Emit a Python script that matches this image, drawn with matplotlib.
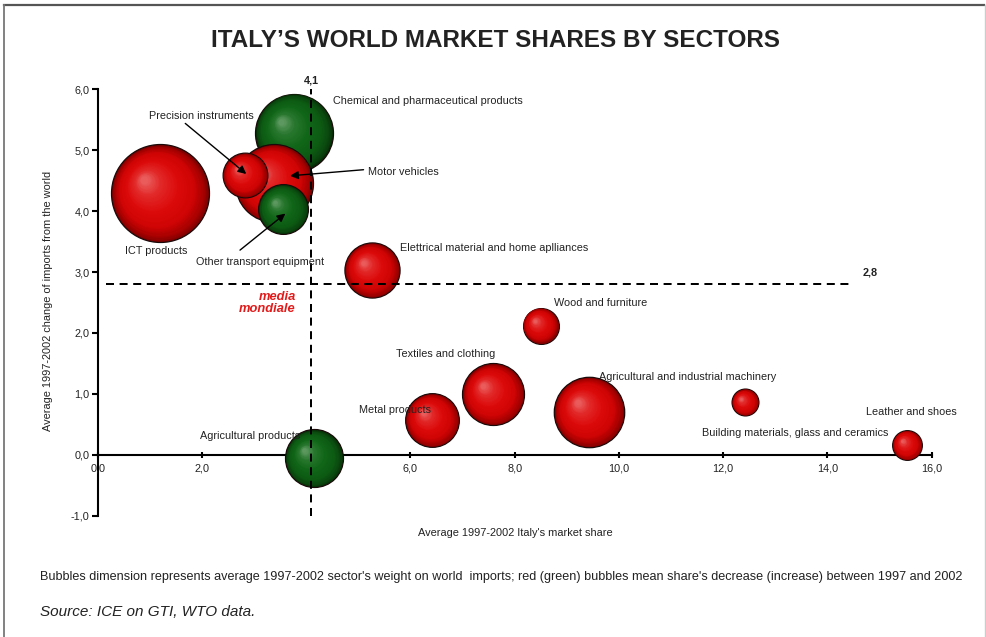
import numpy as np
import matplotlib
matplotlib.use("Agg")
import matplotlib.pyplot as plt
from matplotlib.colors import LinearSegmentedColormap
from matplotlib.transforms import offset_copy
from matplotlib.lines import Line2D

plt.rcParams['font.family'] = ['Liberation Sans', 'DejaVu Sans']

# ---- data -------------------------------------------------------------
sectors = [
    "Chemical and pharmaceutical products",
    "Motor vehicles",
    "Precision instruments",
    "Other transport equipment",
    "ICT products",
    "Elettrical material and home aplliances",
    "Agricultural products",
    "Metal products",
    "Textiles and clothing",
    "Wood and furniture",
    "Agricultural and industrial machinery",
    "Building materials, glass and ceramics",
    "Leather and shoes",
]
market_share = [3.77, 3.38, 2.83, 3.56, 1.20, 5.27, 4.15, 6.42, 7.59, 8.50, 9.43, 12.42, 15.53]
import_change = [5.29, 4.46, 4.59, 4.03, 4.29, 3.03, -0.06, 0.57, 0.99, 2.12, 0.70, 0.86, 0.16]
world_weight = [7.6, 7.6, 2.5, 3.1, 12.0, 3.8, 4.2, 3.6, 4.8, 1.6, 6.2, 0.9, 1.1]
share_trend = ["increase", "decrease", "decrease", "increase", "decrease", "decrease",
               "increase", "decrease", "decrease", "decrease", "decrease", "decrease", "decrease"]

world_avg_share = 4.1
world_avg_change = 2.8

x_ticks = [0, 2, 4, 6, 8, 10, 12, 14, 16]
y_ticks = [-1, 0, 1, 2, 3, 4, 5, 6]

# ---- layout -----------------------------------------------------------
# label anchor (x, y, horizontal alignment) for each sector
label_place = {
    "Chemical and pharmaceutical products": (4.52, 5.81, "left"),
    "Motor vehicles": (5.19, 4.64, "left"),
    "Precision instruments": (1.98, 5.57, "center"),
    "Other transport equipment": (3.12, 3.16, "center"),
    "ICT products": (1.13, 3.34, "center"),
    "Elettrical material and home aplliances": (5.80, 3.39, "left"),
    "Agricultural products": (1.96, 0.31, "left"),
    "Metal products": (5.02, 0.74, "left"),
    "Textiles and clothing": (5.72, 1.66, "left"),
    "Wood and furniture": (8.75, 2.50, "left"),
    "Agricultural and industrial machinery": (9.62, 1.27, "left"),
    "Building materials, glass and ceramics": (11.59, 0.35, "left"),
    "Leather and shoes": (14.74, 0.71, "left"),
}
# arrows (tail, head) pointing at crowded bubbles
arrow_place = {
    "Precision instruments": ((1.68, 5.44), (2.85, 4.61)),
    "Motor vehicles": ((5.10, 4.68), (3.69, 4.58)),
    "Other transport equipment": ((2.73, 3.36), (3.60, 3.96)),
}

SIZE_SCALE = 414.7  # marker area (pt^2) per weight unit

shade = {
    "decrease": LinearSegmentedColormap.from_list(
        "red_sphere",
        [(0.0, "#7a0000"), (0.08, "#a40000"), (0.25, "#cf0404"),
         (0.5, "#dc0a0a"), (0.8, "#e22a2a"), (1.0, "#ea5c5c")]),
    "increase": LinearSegmentedColormap.from_list(
        "green_sphere",
        [(0.0, "#062c06"), (0.08, "#0a460e"), (0.25, "#0d5c14"),
         (0.5, "#106618"), (0.8, "#2a7830"), (1.0, "#5c985f")]),
}

TEXT = "#222222"

fig = plt.figure(figsize=(9.86, 6.37), dpi=100)
ax = fig.add_axes([0.0991, 0.1904, 0.8458, 0.6694])
ax.set_xlim(0, 16)
ax.set_ylim(-1, 6)


def sphere(ax, x, y, area, cmap, n=40):
    r_pt = np.sqrt(area) / 2.0
    hx, hy = -0.33, 0.28
    for k in range(n):
        t = k / (n - 1)
        f = 1.0 - 0.92 * t
        tr = offset_copy(ax.transData, fig=ax.figure,
                         x=hx * t * r_pt, y=hy * t * r_pt, units="points")
        kw = dict(edgecolors="#1a0a0a", linewidths=0.9) if k == 0 else dict(linewidths=0)
        ax.scatter([x], [y], s=area * f * f, color=cmap(t), transform=tr,
                   zorder=2, clip_on=False, **kw)


for name, xv, yv, w, tr in zip(sectors, market_share, import_change, world_weight, share_trend):
    sphere(ax, xv, yv, w * SIZE_SCALE, shade[tr])

# world average reference lines
ax.plot([world_avg_share, world_avg_share], [-1, 6], color="black", lw=1.44,
        dashes=(4, 2.8), zorder=3, clip_on=False)
ax.plot([0.15, 14.5], [world_avg_change, world_avg_change], color="black", lw=1.44,
        dashes=(4, 2.8), zorder=3, clip_on=False)
ax.text(world_avg_share, 6.14, "4,1", ha="center", va="center", fontsize=7.8,
        fontweight="bold", color=TEXT)
ax.text(14.68, 3.0, "2,8", ha="left", va="center", fontsize=7.8,
        fontweight="bold", color=TEXT)
ax.text(3.8, 2.49, "media\nmondiale", ha="right", va="center", fontsize=9.3,
        fontweight="bold", fontstyle="italic", color="#e41b1b", linespacing=0.95)

# sector labels and arrows
for name in sectors:
    lx, ly, ha = label_place[name]
    ax.text(lx, ly, name, ha=ha, va="center", fontsize=7.8, color=TEXT, zorder=4)
for name, (tail, head) in arrow_place.items():
    ax.annotate("", xy=head, xytext=tail, zorder=4,
                arrowprops=dict(arrowstyle="-|>", color="black", lw=1.0,
                                mutation_scale=12, shrinkA=0, shrinkB=0))

# axes styling: spines crossing at the origin
for side in ("top", "right"):
    ax.spines[side].set_visible(False)
ax.spines["left"].set_position(("data", 0))
ax.spines["bottom"].set_position(("data", 0))
ax.spines["left"].set_linewidth(1.5)
ax.spines["bottom"].set_linewidth(1.5)
ax.spines["left"].set_zorder(1)
ax.spines["bottom"].set_zorder(1)
ax.set_xticks(x_ticks)
ax.set_yticks(y_ticks)
ax.set_xticklabels([f"{v:.1f}".replace(".", ",") for v in x_ticks])
ax.set_yticklabels([f"{v:.1f}".replace(".", ",") for v in y_ticks])
ax.tick_params(axis="x", direction="inout", length=5, width=1.5, labelsize=7.8,
               colors="black", labelcolor=TEXT, pad=4)
ax.tick_params(axis="y", direction="out", length=4, width=1.5, labelsize=7.8,
               colors="black", labelcolor=TEXT, pad=2)
ax.patch.set_alpha(0)

# titles and notes
fig.text(0.503, 0.937, "ITALY\u2019S WORLD MARKET SHARES BY SECTORS", ha="center",
         va="center", fontsize=17.5, fontweight="bold", color=TEXT)
fig.text(515 / 986, 1 - 533 / 637, "Average 1997-2002 Italy's market share",
         ha="center", va="center", fontsize=7.9, color=TEXT)
fig.text(48 / 986, 1 - 301 / 637, "Average 1997-2002 change of imports from the world",
         ha="center", va="center", rotation=90, fontsize=7.9, color=TEXT)
fig.text(40 / 986, 1 - 577 / 637,
         "Bubbles dimension represents average 1997-2002 sector's weight on world  imports; "
         "red (green) bubbles mean share's decrease (increase) between 1997 and 2002",
         ha="left", va="center", fontsize=9.05, color=TEXT)
fig.text(40 / 986, 1 - 612 / 637, "Source: ICE on GTI, WTO data.", ha="left",
         va="center", fontsize=11.0, fontstyle="italic", color=TEXT)

# frame around the chart
fig.add_artist(Line2D([4 / 986, 984 / 986], [1 - 5 / 637, 1 - 5 / 637],
                      transform=fig.transFigure, color="#555555", lw=1.6))
fig.add_artist(Line2D([4 / 986, 4 / 986], [0, 1 - 5 / 637],
                      transform=fig.transFigure, color="#777777", lw=1.3))
fig.add_artist(Line2D([984.5 / 986, 984.5 / 986], [0, 1 - 5 / 637],
                      transform=fig.transFigure, color="#cccccc", lw=1.0))

fig.savefig("out.png", dpi=100, facecolor="white")
